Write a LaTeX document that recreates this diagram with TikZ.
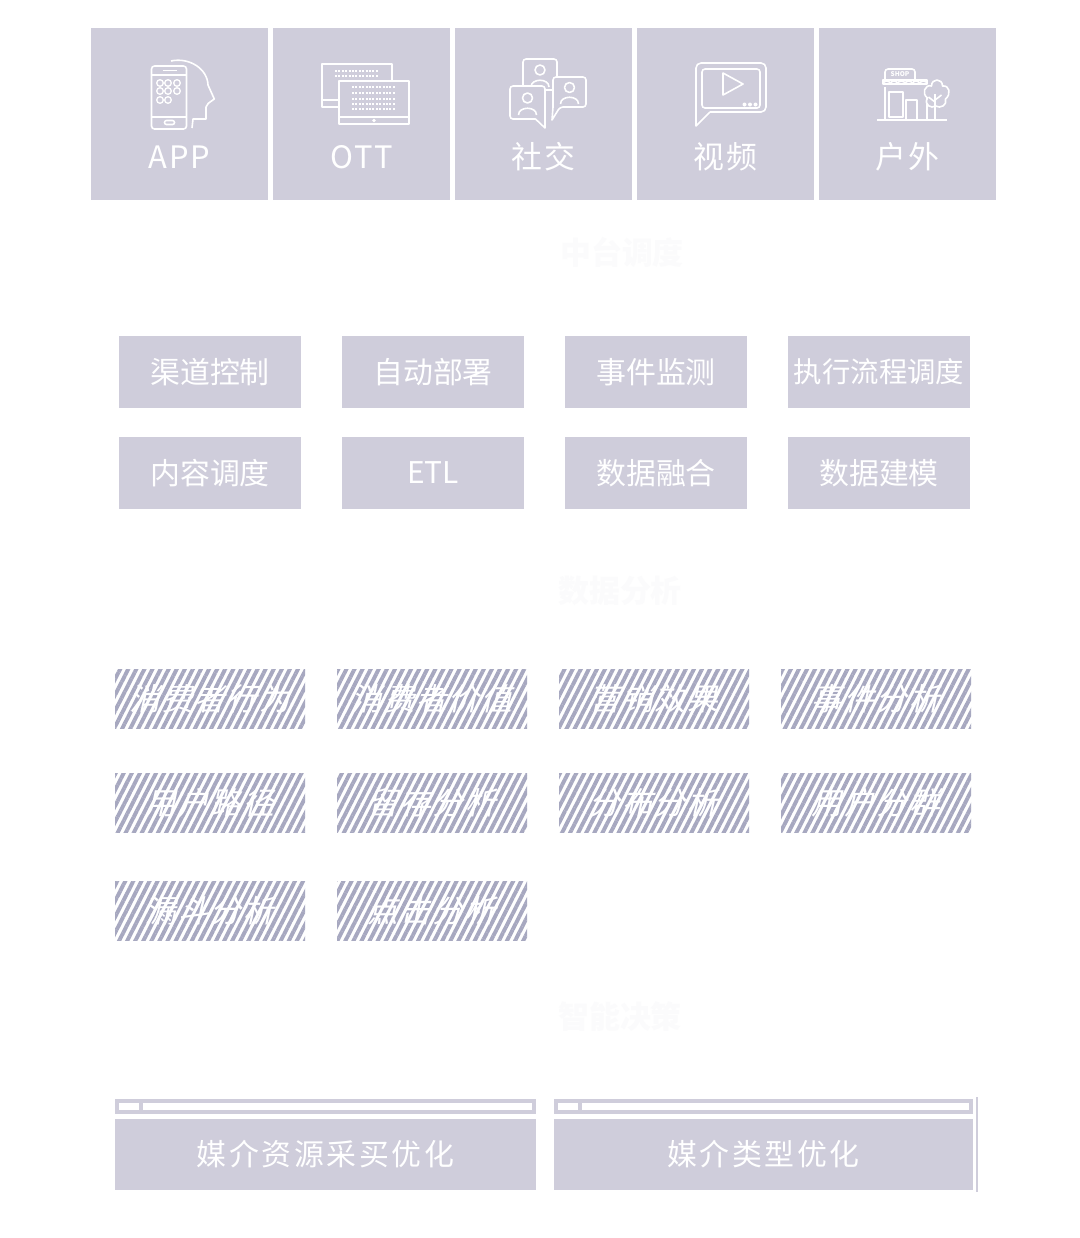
\documentclass[tikz,border=0pt]{standalone}
\usepackage{fontspec}
\setmainfont{Noto Sans CJK SC}
\newfontfamily\cjkslant[FakeSlant=0.22,LetterSpace=5]{Noto Sans CJK SC}
\newfontfamily\cjkwide[LetterSpace=6]{Noto Sans CJK SC}
\newfontfamily\cjkwider[LetterSpace=9]{Noto Sans CJK SC}
\usetikzlibrary{positioning,patterns.meta}
\definecolor{boxgray}{RGB}{207,205,219}
\definecolor{stripe}{RGB}{167,168,192}
\definecolor{faint}{RGB}{251,251,252}
\tikzset{
  every node/.style={
    outer sep=0pt,
    inner sep=0pt
  },
  channel/.style={
    shape=rectangle,
    fill=boxgray,
    minimum width=177bp,
    minimum height=172bp
  },
  chanlabel/.style={
    label={[text=white,font=\fontsize{31}{31}\cjkwide,yshift=-43bp]center:#1}
  },
  heading/.style={
    text=faint,
    font=\fontsize{31}{31}\selectfont\bfseries
  },
  module/.style={
    shape=rectangle,
    fill=boxgray,
    minimum width=182bp,
    minimum height=72bp,
    text=white,
    font=\fontsize{30}{30}\selectfont
  },
  analysis/.style={
    shape=rectangle,
    pattern={Lines[angle=63,distance=7.2bp,line width=3.9bp]},
    pattern color=stripe,
    minimum width=190bp,
    minimum height=59bp,
    text=white,
    font=\fontsize{31}{31}\cjkslant
  },
  optbar/.style={
    shape=rectangle,
    fill=boxgray,
    minimum width=421bp,
    minimum height=15bp
  },
  optim/.style={
    shape=rectangle,
    fill=boxgray,
    minimum width=421bp,
    minimum height=71bp,
    text=white,
    font=\fontsize{30}{30}\cjkwider
  },
  icon/.style={
    draw=white,
    line width=1.6bp,
    line join=round
  }
}
\begin{document}
\begin{tikzpicture}[x=1bp,y=-1bp]
\useasboundingbox[fill=white] (0,0) rectangle (1080,1238);

% channels
\node [channel,chanlabel=APP,anchor=north west] (app) at (91,28) {};
\node [channel,chanlabel=OTT,right=5bp of app] (ott) {};
\node [channel,chanlabel=社交,right=5bp of ott] (social) {};
\node [channel,chanlabel=视频,right=5bp of social] (video) {};
\node [channel,chanlabel=户外,right=5bp of video] (outdoor) {};

% icon: app
\begin{scope}[shift={(app.center)}]
  \draw [icon] (-8.5,-53) .. controls (10,-57) and (28,-45) .. (28.5,-29)
    -- (34.8,-15) -- (28.8,-10.7) -- (26.5,-7) -- (26.5,5) -- (13.5,5) -- (12.5,14);
  \draw [icon,fill=boxgray,rounded corners=3] (-28,-48) rectangle (7,15);
  \draw [icon] (-28,-39) -- (7,-39) (-28,3) -- (7,3);
  \draw [icon] (-17,-43.5) -- (-3,-43.5);
  \draw [icon,rounded corners=2] (-15,6.5) rectangle (-5,10.5);
  \foreach \cx in {-19.5,-11.5,-2.5}
    \foreach \cy in {-31,-23}
      \draw [icon,line width=1.3bp] (\cx,\cy) circle (3.3);
  \foreach \cx in {-19.5,-11.5}
    \draw [icon,line width=1.3bp] (\cx,-14) circle (3.3);
\end{scope}

% icon: ott
\begin{scope}[shift={(ott.center)}]
  \draw [icon] (-39.5,-50) rectangle (30.5,-7);
  \draw [icon] (-39.5,-14) -- (-22.5,-14);
  \foreach \ry in {-43,-38}
    \draw [white,line width=2.4bp,dash pattern=on 2bp off 1.4bp] (-26.5,\ry) -- (17.5,\ry);
  \draw [icon,fill=boxgray] (-22.5,-33) rectangle (47.5,10);
  \draw [icon] (-22.5,3) -- (47.5,3);
  \fill [white] (12.5,6.5) circle (1.8);
  \foreach \ry in {-27,-21,-15,-10,-5}
    \draw [white,line width=2.4bp,dash pattern=on 2bp off 1.4bp] (-9.5,\ry) -- (34.5,\ry);
\end{scope}

% icon: social
\begin{scope}[shift={(social.center)}]
  \draw [icon,fill=boxgray,rounded corners=3] (-20.5,-55) rectangle (13.5,-24);
  \draw [icon] (-3.5,-44) circle (5);
  \draw [icon] (-12.5,-27) .. controls (-12.5,-36) and (5.5,-36) .. (5.5,-27);
  \draw [icon,fill=boxgray] (1.5,5) -- (1.5,14) -- (-8,5) [rounded corners=3] -- (-33.5,5) -- (-33.5,-28) -- (1.5,-28) -- cycle;
  \draw [icon] (-16,-16) circle (5);
  \draw [icon] (-25,1) .. controls (-25,-8) and (-7,-8) .. (-7,1);
  \draw [icon,fill=boxgray] (16.5,-7) -- (8.5,6) -- (9.5,-7) [rounded corners=3] -- (9.5,-37) -- (42.5,-37) -- (42.5,-7) -- cycle;
  \draw [icon] (26,-26.5) circle (5);
  \draw [icon] (17,-10) .. controls (17,-19) and (35,-19) .. (35,-10);
\end{scope}

% icon: video
\begin{scope}[shift={(video.center)}]
  \draw [icon] (-15.5,-2) -- (-29.5,12) -- (-29.5,-2);
  \draw [icon,rounded corners=5] (-29.5,-2) -- (-29.5,-51) -- (40.5,-51) -- (40.5,-2) -- (-15.5,-2);
  \draw [icon,rounded corners=3] (-23.5,-45) rectangle (34.5,-6);
  \draw [icon] (-2.5,-41) -- (-2.5,-19) -- (17.5,-30) -- cycle;
  \foreach \dx in {19,24.5,30}
    \fill [white] (\dx,-9.5) circle (2);
\end{scope}

% icon: outdoor
\begin{scope}[shift={(outdoor.center)}]
  \draw [icon] (-30.5,6) -- (39.5,6);
  \draw [icon] (-22.5,6) -- (-22.5,-27) (19.5,-27) -- (19.5,6);
  \draw [icon,rounded corners=3] (-22.5,-34) -- (-22.5,-45) -- (7.5,-45) -- (7.5,-34);
  \node [text=white,font=\fontsize{6.5}{6.5}\selectfont\bfseries] (shop) at (-7.5,-39.5) {SHOP};
  \draw [icon] (-24.5,-34) rectangle (19.5,-30);
  \draw [icon] (-24.5,-30) \foreach \k in {1,...,6} { arc (180:0:3.67 and -3) };
  \draw [icon] (-18.5,-22) rectangle (-4.5,3);
  \draw [icon] (-1.5,6) -- (-1.5,-14) -- (9.5,-14) -- (9.5,6);
  \draw [icon,fill=boxgray] (20,-16) .. controls (14,-20) and (17,-30) .. (24,-28)
    .. controls (24,-36) and (35,-36) .. (35,-28) .. controls (42,-29) and (44,-20) .. (38,-15)
    .. controls (40,-9) and (33,-5) .. (28,-8) .. controls (24,-5) and (16,-9) .. (20,-16);
  \draw [icon] (27.5,-20) -- (27.5,6) (27.5,-12) -- (21,-17) (27.5,-14) -- (34,-19);
\end{scope}

% middle platform
\node [heading] (midhead) at (622,252) {中台调度};
\node [module,anchor=north west] (m1) at (119,336) {渠道控制};
\node [module,right=41bp of m1] (m2) {自动部署};
\node [module,right=41bp of m2] (m3) {事件监测};
\node [module,right=41bp of m3,font=\fontsize{28.5}{28.5}\selectfont] (m4) {执行流程调度};
\node [module,below=29bp of m1] (m5) {内容调度};
\node [module,below=29bp of m2] (m6) {ETL};
\node [module,below=29bp of m3] (m7) {数据融合};
\node [module,below=29bp of m4] (m8) {数据建模};

% analysis
\node [heading] (anahead) at (620,591) {数据分析};
\node [analysis,anchor=north west] (a1) at (115,669) {消费者行为};
\node [analysis,right=32bp of a1] (a2) {消费者价值};
\node [analysis,right=32bp of a2] (a3) {营销效果};
\node [analysis,right=32bp of a3] (a4) {事件分析};
\node [analysis,below=45bp of a1] (a5) {用户路径};
\node [analysis,below=45bp of a2] (a6) {留存分析};
\node [analysis,below=45bp of a3] (a7) {分布分析};
\node [analysis,below=45bp of a4] (a8) {用户分群};
\node [analysis,below=49bp of a5] (a9) {漏斗分析};
\node [analysis,below=49bp of a6] (a10) {点击分析};

% decision
\node [heading] (dechead) at (620,1017) {智能决策};
\node [optbar,anchor=north west] (bar1) at (115,1099) {};
\node [optbar,anchor=north west,minimum width=419bp] (bar2) at (554,1099) {};
\foreach \b in {bar1,bar2} {
  \fill [white] ([shift={(4,4)}]\b.north west) rectangle ++(20,7);
  \fill [white] ([shift={(28,4)}]\b.north west) |- ([shift={(-4,-4)}]\b.south east) |- cycle;
}
\node [optim,below=5bp of bar1] (opt1) {媒介资源采买优化};
\node [optim,below=5bp of bar2,minimum width=419bp] (opt2) {媒介类型优化};
\coordinate (edgetop) at (977,1097);
\coordinate (edgebot) at (977,1192);
\draw [boxgray,line width=1.5bp] (edgetop) -- (edgebot);

\end{tikzpicture}
\end{document}
